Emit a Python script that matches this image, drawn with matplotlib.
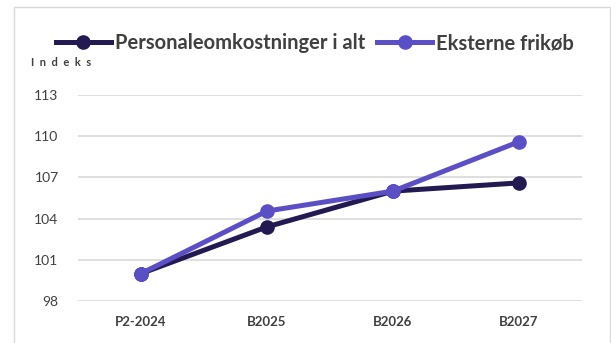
import matplotlib.pyplot as plt
from matplotlib.patches import Rectangle

# data
kategorier = ["P2-2024", "B2025", "B2026", "B2027"]
personale = [100.0, 103.4, 106.0, 106.6]
eksterne = [100.0, 104.55, 106.0, 109.6]
yticks = [98, 101, 104, 107, 110, 113]

c_dark = "#221a50"
c_purple = "#5b4fc6"
c_text = "#404040"

plt.rcParams["font.family"] = ["Lato", "DejaVu Sans"]

fig = plt.figure(figsize=(6.11, 3.43), dpi=100)
fig.patches.append(Rectangle((14 / 611, -0.1), 596 / 611, 1.1 - 7 / 343, transform=fig.transFigure,
                             fill=False, edgecolor="#d9d9d9", linewidth=1))

ax = fig.add_axes([78 / 611, 1 - 301 / 343, 504 / 611, 206 / 343])
x = range(len(kategorier))
l1, = ax.plot(x, personale, color=c_dark, lw=3.6, marker="o", ms=9.5, label="Personaleomkostninger i alt", zorder=3)
l2, = ax.plot(x, eksterne, color=c_purple, lw=3.6, marker="o", ms=9.5, label="Eksterne frikøb", zorder=4)

ax.set_xlim(-0.5, 3.5)
ax.set_ylim(98, 113)
ax.set_yticks(yticks)
ax.set_xticks(list(x))
ax.set_xticklabels(kategorier, fontweight="bold", fontsize=9.5, color=c_text)
ax.tick_params(axis="y", labelsize=10, labelcolor=c_text, length=0, pad=14)
ax.tick_params(axis="x", length=0, pad=11)
ax.grid(axis="y", color="#d9d9d9", lw=1.2)
ax.set_axisbelow(True)
for s in ax.spines.values():
    s.set_visible(False)

fig.text(31 / 611, 1 - 62 / 343, "I  n  d  e  k  s", fontsize=8, fontweight="bold", color=c_text, va="center")

fig.legend(handles=[l1, l2], loc="center", bbox_to_anchor=(315 / 611, 1 - 43 / 343), ncol=2,
           frameon=False, prop={"size": 14.5, "weight": "bold"},
           labelcolor=c_text, handlelength=2.73, handletextpad=0.2, columnspacing=0.6)

fig.savefig("out.png", dpi=100)
